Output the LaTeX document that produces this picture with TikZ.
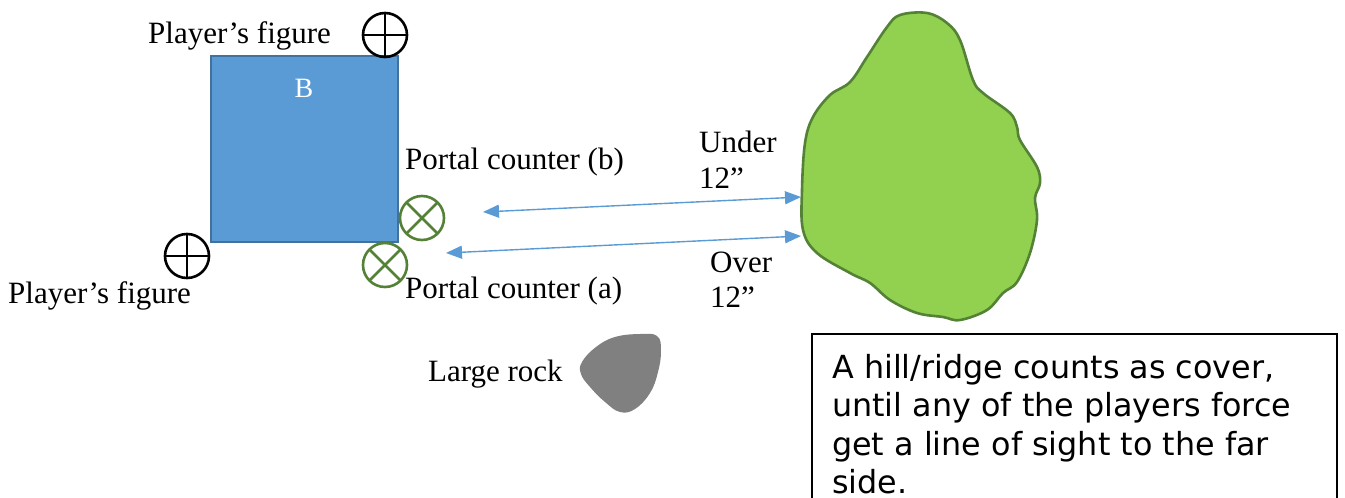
\documentclass[tikz,border=0pt]{standalone}
\usepackage{fontspec}
\setmainfont{Liberation Serif}
\newfontfamily\boxfont{DejaVu Sans}
\usetikzlibrary{arrows.meta}
\definecolor{sqfill}{HTML}{5B9BD5}
\definecolor{sqline}{HTML}{41719C}
\definecolor{hillfill}{HTML}{92D050}
\definecolor{hillline}{HTML}{538135}
\definecolor{rockfill}{HTML}{808080}
\tikzset{
  lbl/.style={anchor=base west, inner sep=0pt, font=\fontsize{31}{37}\selectfont},
  boxline/.style={anchor=base west, inner sep=0pt, font=\boxfont\fontsize{31.8}{39}\selectfont},
  figmark/.style={circle, draw=black, line width=2.6pt, minimum size=44pt, inner sep=0pt,
    path picture={\draw[black, line width=2.6pt] (path picture bounding box.north) -- (path picture bounding box.south)
      (path picture bounding box.west) -- (path picture bounding box.east);}},
  portal/.style={circle, draw=hillline, line width=2.6pt, minimum size=44pt, inner sep=0pt,
    path picture={\draw[hillline, line width=2.6pt] (path picture bounding box.north west) -- (path picture bounding box.south east)
      (path picture bounding box.south west) -- (path picture bounding box.north east);}},
  dist/.style={draw=sqfill, line width=1.4pt, {Triangle[length=16pt,width=13pt]}-{Triangle[length=16pt,width=13pt]}},
}
\begin{document}
\begin{tikzpicture}[x=1pt,y=-1pt]
\useasboundingbox (0,0) rectangle (1345,498);
% blue square
\node[draw=sqline, fill=sqfill, line width=2pt, minimum width=187pt, minimum height=186pt, inner sep=0pt] (sq) at (304.5,149) {};
\node[anchor=base, inner sep=0pt, text=white, font=\fontsize{28}{34}\selectfont] (B) at (304,97) {B};
% player figures
\node[figmark] (pf1) at (385,35) {};
\node[figmark] (pf2) at (187,256) {};
\node[lbl] (pfl1) at (148,43) {Player’s figure};
\node[lbl] (pfl2) at (8,303) {Player’s figure};
% portal counters
\node[portal] (pb) at (422,218) {};
\node[portal] (pa) at (385,265) {};
\node[lbl] (pbl) at (405,169) {Portal counter (b)};
\node[lbl] (pal) at (405,298) {Portal counter (a)};
% hill
\draw[draw=hillline, fill=hillfill, line width=2.6pt] plot[smooth cycle, tension=0.6] coordinates {
 (900,15) (927,13) (947,23) (960,40) (973,80) (983,93) (1010,113) (1017,127) (1020,140)
 (1037,167) (1040,183) (1035,198) (1037,220) (1030,253) (1017,282) (1003,293) (987,310)
 (960,320) (943,317) (917,313) (890,300) (870,283) (850,273) (817,253) (803,230) (802,190)
 (805,143) (813,117) (830,95) (850,82) (867,57) (887,27)};
\coordinate (h1) at (801,197);
\coordinate (h2) at (801,236);
\coordinate (s1) at (483,212);
\coordinate (s2) at (446,253);
\draw[dist] (s1) -- (h1);
\draw[dist] (s2) -- (h2);
\node[lbl] (u1) at (699,152) {Under};
\node[lbl] (u2) at (699,188) {12”};
\node[lbl] (o1) at (710,272) {Over};
\node[lbl] (o2) at (710,307) {12”};
% rock
\fill[rockfill] plot[smooth cycle, tension=0.7] coordinates {
 (582,362) (596,347) (615,337) (640,334) (657,336) (661,350) (658,372) (650,393)
 (635,409) (620,412) (605,402) (590,387) (581,374)};
\node[lbl] (rock) at (428,381) {Large rock};
% note box
\draw[line width=1.5pt] (812,334) rectangle (1337,520);
\node[boxline] (t1) at (832,378) {A hill/ridge counts as cover,};
\node[boxline] (t2) at (832,416.5) {until any of the players force};
\node[boxline] (t3) at (832,455) {get a line of sight to the far};
\node[boxline] (t4) at (832,493) {side.};
\end{tikzpicture}
\end{document}
